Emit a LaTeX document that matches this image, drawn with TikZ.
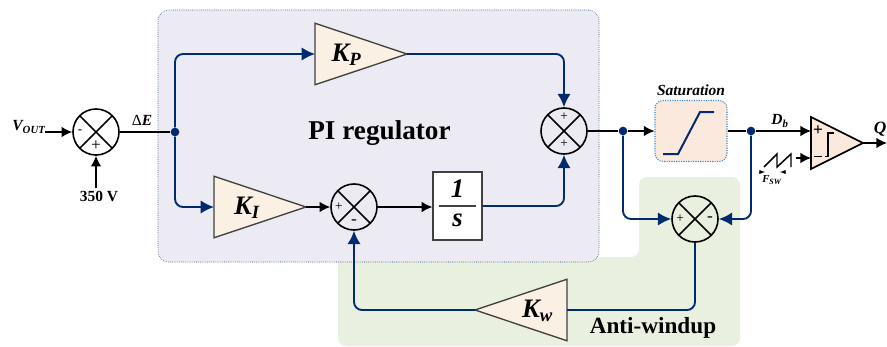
\documentclass[tikz,border=0pt]{standalone}
\usepackage{fontspec}
\setmainfont{Liberation Serif}
\usetikzlibrary{shapes.geometric,arrows.meta}
\definecolor{navyline}{HTML}{002B6E}
\definecolor{piback}{HTML}{ECEAF2}
\definecolor{awback}{HTML}{E9F0DF}
\definecolor{gainfill}{HTML}{FBF0E4}
\definecolor{satfill}{HTML}{FBE9DD}
\definecolor{satedge}{HTML}{2E86D0}
\definecolor{gainedge}{HTML}{404040}
\newcommand{\fsz}[1]{\fontsize{#1}{#1}\selectfont}
\begin{document}
\begin{tikzpicture}[x=0.75pt,y=-0.75pt,>=latex]
    \tikzstyle{sumnode}=[circle,draw,line width=1.2pt,minimum size=34.5pt,inner sep=0pt,path picture={\draw[line width=1.2pt] (path picture bounding box.north west) -- (path picture bounding box.south east) (path picture bounding box.north east) -- (path picture bounding box.south west);}]
    \tikzstyle{gain}=[isosceles triangle,isosceles triangle apex angle=37,draw=gainedge,fill=gainfill,line width=1pt,inner sep=0pt,outer sep=0pt,minimum height=69pt,minimum width=45pt]
    \tikzstyle{gaintext}=[inner sep=0pt,font=\fsz{20}\bfseries\itshape]
    \tikzstyle{dot}=[circle,fill=navyline,inner sep=0pt,minimum size=6.5pt]
    \tikzstyle{sign}=[inner sep=0pt,font=\fsz{10}]
    \tikzstyle{blk}=[line width=1pt,-{Latex[length=8pt,width=8pt]}]
    \tikzstyle{nvy}=[line width=1.4pt,-{Latex[length=10pt,width=10pt]},draw=navyline,rounded corners=6pt]
    \tikzstyle{lbl}=[inner sep=0pt,font=\fsz{11.6}\bfseries]

    \useasboundingbox (0,0) rectangle (887,346);
    \fill[awback,rounded corners=6pt] (338,250) -- (338,346) -- (740,346) -- (740,177) -- (639,177) -- (639,257) -- (590,257) -- cycle;
    \node[draw=navyline,densely dotted,fill=piback,rounded corners=8pt,minimum width=330.75pt,minimum height=189pt,inner sep=0pt] (piblock) at (378.5,136) {};
    \node[inner sep=0pt,font=\fsz{20.4}\bfseries] (pititle) at (379.5,133) {PI regulator};
    \node[inner sep=0pt,font=\fsz{17.4}\bfseries] (awtitle) at (653,328) {Anti-windup};

    \node[sumnode] (sumin) at (96,132) {};
    \node[sumnode] (sumi) at (354,207) {};
    \node[sumnode] (sumout) at (564,131) {};
    \node[sumnode] (sumaw) at (695,219) {};
    \node[sign] (suminminus) at (80,132) {-};
    \node[sign,font=\fsz{13}] (suminplus) at (96,146) {+};
    \node[sign] (sumiplus) at (339,207) {+};
    \node[sign,font=\fsz{13}] (sumiminus) at (354,222) {-};
    \node[sign] (sumouttop) at (564,117) {+};
    \node[sign] (sumoutbot) at (564,144) {+};
    \node[sign] (sumawplus) at (680,219) {+};
    \node[sign,font=\fsz{13}] (sumawminus) at (710,219) {-};

    \node[gain,anchor=apex] (kp) at (407,54) {};
    \node[gain,anchor=apex] (ki) at (306,207) {};
    \node[gain,anchor=apex,shape border rotate=180] (kw) at (475,310) {};
    \node[gaintext] (kptext) at (346.5,55) {K\textsubscript{P}};
    \node[gaintext] (kitext) at (247,208) {K\textsubscript{I}};
    \node[gaintext] (kwtext) at (537.5,311) {K\textsubscript{w}};

    \node[draw=gainedge,fill=white,line width=1pt,minimum width=36.75pt,minimum height=51pt,inner sep=0pt] (integ) at (457.5,206) {};
    \node[inner sep=0pt,font=\fsz{20}\bfseries\itshape] (integnum) at (457.5,189) {1};
    \node[inner sep=0pt,font=\fsz{20}\bfseries\itshape] (integden) at (457.5,220) {s};
    \draw[line width=1pt,draw=gainedge] (439,206) -- (476,206);

    \node[draw=satedge,densely dotted,fill=satfill,rounded corners=6pt,line width=0.8pt,minimum width=54pt,minimum height=45.75pt,inner sep=0pt] (sat) at (691,131) {};
    \draw[navyline,line width=1.5pt] (663,154) -- (678,154) -- (700,112) -- (714,112);
    \node[inner sep=0pt,font=\fsz{11.6}\bfseries\itshape] (sattitle) at (691,90) {Saturation};

    \coordinate (cmpa) at (811,117);
    \coordinate (cmpb) at (811,169);
    \coordinate (cmptip) at (863,143);
    \draw[fill=satfill,line width=1.2pt,line join=miter] (cmpa) -- (cmptip) -- (cmpb) -- cycle;
    \node[sign,font=\fsz{13}\bfseries] (cmpplus) at (818,131) {+};
    \draw[line width=1.2pt] (814,156.5) -- (822,156.5);
    \draw[line width=1.2pt] (825,156.5) -- (828,156.5) -- (828,133) -- (834,133);

    \node[dot] (jin) at (175,132) {};
    \node[dot] (jsum) at (623,131) {};
    \node[dot] (jsat) at (751,131) {};

    \node[inner sep=0pt,font=\fsz{11.6}\bfseries\itshape] (vout) at (29,127) {V\textsubscript{OUT}};
    \node[lbl] (ref) at (99,196) {350 V};
    \node[inner sep=0pt,font=\fsz{11.6}] (err) at (142,120) {Δ\textbf{\textit{E}}};
    \node[inner sep=0pt,font=\fsz{11.6}\bfseries\itshape] (db) at (780,121) {D\textsubscript{b}};
    \node[inner sep=0pt,font=\fsz{13}\bfseries\itshape] (qout) at (880,129) {Q};
    \node[inner sep=0pt,font=\fsz{8}\bfseries\itshape] (fsw) at (772,180) {F\textsubscript{SW}};

    \coordinate (voutend) at (45,132);
    \coordinate (refend) at (96,188);
    \coordinate (qend) at (887,143);
    \coordinate (sawend) at (796,158);

    \draw[blk] (voutend) -- (sumin.west);
    \draw[blk] (refend) -- (sumin.south);
    \draw[line width=1pt] (sumin.east) -- (jin);
    \draw[nvy] (jin) |- (kp.west);
    \draw[nvy] (jin) |- (ki.west);
    \draw[blk] (ki.apex) -- (sumi.west);
    \draw[blk] (sumi.east) -- (integ.west |- sumi.east);
    \draw[nvy,-{Latex[length=10pt,width=10pt]}] (kp.apex) -| (sumout.north);
    \draw[nvy] (integ.east) -| (sumout.south);
    \draw[line width=1pt] (sumout.east) -- (jsum);
    \draw[blk] (jsum) -- (sat.west);
    \draw[line width=1pt] (sat.east) -- (jsat);
    \draw[blk] (jsat) -- (cmpa |- jsat);
    \draw[nvy] (jsum) |- (sumaw.west);
    \draw[nvy] (jsat) |- (sumaw.east);
    \draw[nvy,-] (sumaw.south) |- (kw.east);
    \draw[nvy] (kw.apex) -| (sumi.south);
    \draw[blk] (cmptip) -- (qend);
    \draw[blk] (sawend) -- (cmpa |- sawend);

    \draw[line width=1.1pt] (764,167) -- (777,154) -- (777,167) -- (791,154) -- (791,167);
    \draw[->,line width=0.5pt] (759,172) -- (765,172);
    \draw[->,line width=0.5pt] (786,172) -- (780,172);
\end{tikzpicture}
\end{document}
